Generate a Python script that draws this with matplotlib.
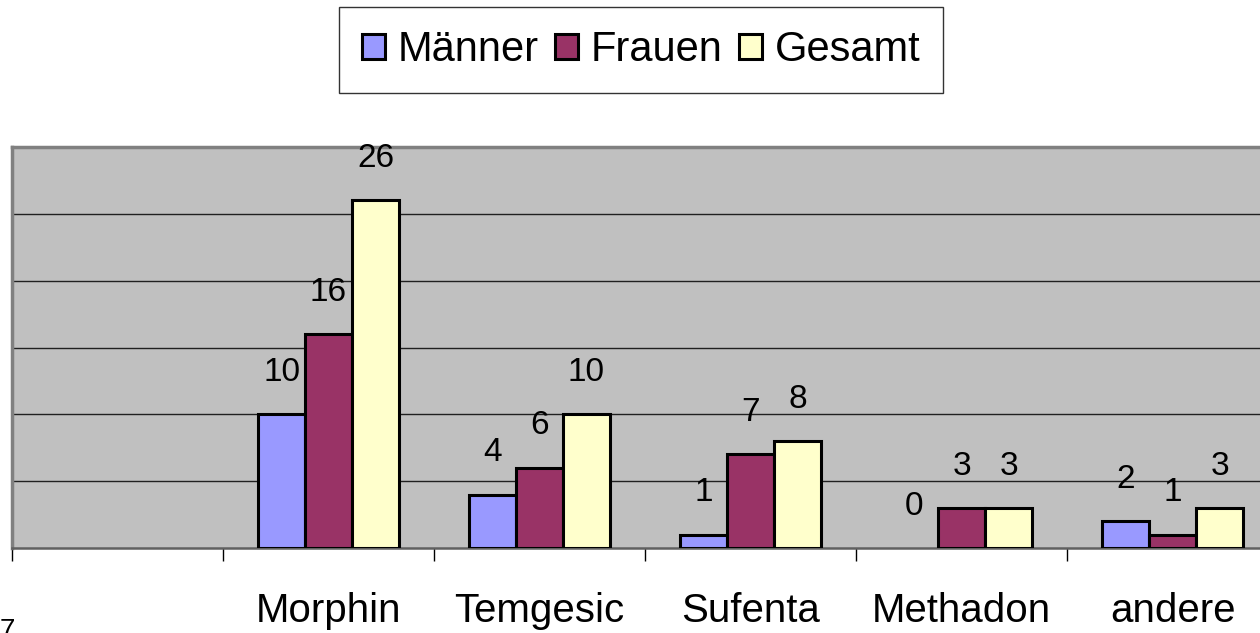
import numpy as np
import matplotlib
matplotlib.use("Agg")
from matplotlib import pyplot as plt

plt.rcParams['font.family'] = ['Liberation Sans', 'DejaVu Sans']

# data (first slot is empty in the original)
categories = ["", "Morphin", "Temgesic", "Sufenta", "Methadon", "andere"]
maenner = [None, 10, 4, 1, 0, 2]
frauen = [None, 16, 6, 7, 3, 1]
gesamt = [None, 26, 10, 8, 3, 3]
series_names = ["Männer", "Frauen", "Gesamt"]
series_colors = ["#9999FF", "#993366", "#FFFFCC"]

fig = plt.figure(figsize=(12.6, 6.33), dpi=100)
# plot area runs off the right edge, like the original screenshot
ax = fig.add_axes([12 / 1260, 85 / 633, 1266 / 1260, 401 / 633])
ax.set_facecolor("#C0C0C0")

x = np.arange(len(categories)) + 0.5
w = 47 / 211
for k, (vals, name, col) in enumerate(zip([maenner, frauen, gesamt], series_names, series_colors)):
    xs = [xi + (k - 1) * w for xi, v in zip(x, vals) if v is not None]
    vs = [v for v in vals if v is not None]
    bars = ax.bar(xs, vs, width=w, color=col, edgecolor="black", linewidth=2.2,
                  label=name, zorder=3)
    for xi, v in zip(xs, vs):
        ax.annotate(str(v), (xi, v), xytext=(0, 24), textcoords="offset points",
                    ha="center", va="baseline", fontsize=24, zorder=4)
    # zero-height bars are not drawn in the original
    for b, v in zip(bars, vs):
        if v == 0:
            b.set_visible(False)

ax.set_xlim(0, len(categories))
ax.set_ylim(0, 30)
ax.set_yticks([5, 10, 15, 20, 25])
ax.yaxis.grid(True, color="#202020", linewidth=1.0, zorder=1)
ax.tick_params(axis="y", left=False, labelleft=False)

ax.set_xticks(x)
ax.set_xticklabels(categories, fontsize=29)
ax.tick_params(axis="x", which="major", length=0, pad=32)
ax.set_xticks(np.arange(len(categories) + 1), minor=True)
ax.tick_params(axis="x", which="minor", length=9, width=1.0, color="black", direction="out")

for side in ["top", "left"]:
    ax.spines[side].set_color("#808080")
    ax.spines[side].set_linewidth(2.5)
ax.spines["bottom"].set_color("#606060")
ax.spines["bottom"].set_linewidth(1.8)
ax.spines["right"].set_visible(False)

leg = fig.legend(loc="center", bbox_to_anchor=(641 / 1260, 1 - 50 / 633), ncol=3,
                 fontsize=30, frameon=True, fancybox=False, handlelength=0.55,
                 handleheight=0.55, handletextpad=0.3, columnspacing=0.4,
                 borderpad=0.55, borderaxespad=0)
leg.get_frame().set_edgecolor("black")
leg.get_frame().set_linewidth(1.0)

fig.text(0.0, 1 - 618 / 633, "7", fontsize=20, ha="left", va="top")

fig.savefig("out.png", dpi=100)
